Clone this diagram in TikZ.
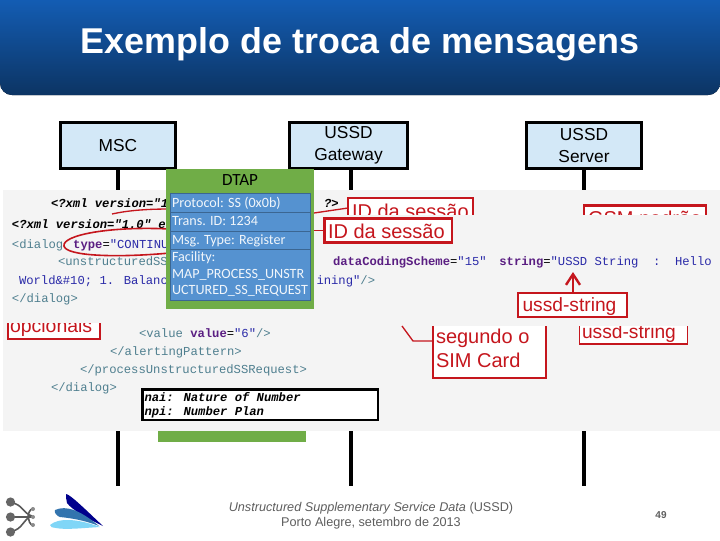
\documentclass[tikz,border=0pt]{standalone}
\usepackage{fontspec}
\setmainfont{Liberation Sans}
\newfontfamily\codefont{Liberation Mono}
\newfontfamily\calfont{Carlito}
\usetikzlibrary{arrows.meta}
\definecolor{boxblue}{HTML}{D3E8F7}
\definecolor{panel}{HTML}{F4F4F4}
\definecolor{dtapgreen}{HTML}{70AD47}
\definecolor{dtapblue}{HTML}{5592D0}
\definecolor{redmark}{HTML}{C5161D}
\definecolor{tagc}{HTML}{4F7F8F}
\definecolor{attrc}{HTML}{5A1E82}
\definecolor{valc}{HTML}{2A2AA8}
\definecolor{footc}{HTML}{5E5E5E}
\definecolor{tt}{HTML}{1565C4}
\definecolor{tm}{HTML}{14559F}
\definecolor{tb}{HTML}{0C3463}
\newcommand{\tg}[1]{\textcolor{tagc}{#1}}
\newcommand{\at}[1]{\textcolor{attrc}{\bfseries #1}}
\newcommand{\vl}[1]{\textcolor{valc}{#1}}
\tikzset{
  x=0.75pt,y=-0.75pt,
  every node/.style={inner sep=0pt,outer sep=0pt},
  actor/.style={draw=black,line width=2.4pt,fill=boxblue,align=center,font=\fontsize{13}{16.5}\selectfont},
  life/.style={draw=black,line width=2.4pt},
  code/.style={anchor=base west,font=\codefont\fontsize{9.15}{11}\selectfont},
  redbox/.style={draw=redmark,line width=1.6pt,fill=white,anchor=north west},
  redtext/.style={anchor=base west,text=redmark,font=\fontsize{15}{18}\selectfont},
  redline/.style={draw=redmark,line width=1pt},
  row/.style={anchor=base west,text=white!92!dtapblue,font=\calfont\fontsize{10.6}{12}\selectfont},
  foot/.style={text=footc,font=\fontsize{9.5}{11.25}\selectfont}
}
\begin{document}
\begin{tikzpicture}
\useasboundingbox (0,0) rectangle (720,540);
\fill[white] (0,0) rectangle (720,540);
% title band
\begin{scope}
\clip (0,0) rectangle (720,95);
\fill[top color=tt,middle color=tm,bottom color=tb,rounded corners=9pt]
  (0,-20) -- (0,95) -- (720,95) -- (720,-20) -- cycle;
\end{scope}
\node[text=white,font=\bfseries\fontsize{26.9}{30}\selectfont,anchor=base] (title) at (360,53) {Exemplo de troca de mensagens};
% actors
\node[actor,minimum width=86pt,minimum height=34.4pt] (msc) at (118,145.5) {MSC};
\node[actor,minimum width=88pt,minimum height=34.4pt] (gw) at (348.5,145.5) {USSD\\Gateway};
\node[actor,minimum width=86pt,minimum height=34.4pt] (srv) at (584,145.5) {USSD\\Server};
\coordinate (l1) at (118,486);
\coordinate (l2) at (351,486);
\coordinate (l3) at (584,486);
\draw[life] (msc.south) -- (l1);
\draw[life] (gw.south -| l2) -- (l2);
\draw[life] (srv.south) -- (l3);
% pasted panel
\fill[panel] (3,190) rectangle (720,431);
\fill[dtapgreen] (158,431) rectangle (306,442);
% red boxes cut off by the pasted slide
\begin{scope}
\clip (340,190) rectangle (720,214);
\node[redbox,minimum width=94pt,minimum height=30pt] (id1) at (348,198) {};
\node[redtext] (id1t) at (352,218) {ID da sessão};
\node[redbox,minimum width=91.5pt,minimum height=30pt] (gsm) at (584,205.5) {};
\node[redtext] (gsmt) at (588,225) {GSM padrão};
\end{scope}
\coordinate (e1) at (314,213);
\draw[redline] (e1) -- (id1.west |- 0,208);
\begin{scope}
\clip (0,323) rectangle (720,431);
\node[redbox,line width=1.4pt,minimum width=69pt,minimum height=30pt,anchor=south west] (opc) at (8,339) {};
\node[redtext,font=\fontsize{14.6}{17}\selectfont] (opct) at (10,332) {opcionais};
\end{scope}
\begin{scope}
\clip (0,326) rectangle (720,431);
\node[redbox,line width=1.4pt,minimum width=81pt,minimum height=30pt,anchor=south west] (us2) at (579.5,344) {};
\node[redtext,font=\fontsize{14.4}{17}\selectfont] (us2t) at (582,338) {ussd-string};
\end{scope}
% xml code
\node[code] (c1) at (51,207) {\bfseries\itshape <?xml version="1};
\node[code] (c1b) at (324,207) {\bfseries\itshape ?>};
\node[code] (c2) at (12,228) {\bfseries\itshape <?xml version="1.0" e};
\node[code] (c3) at (12,248) {\tg{<dialog}\hspace{2pt} \at{type}=\vl{"CONTINU}};
\node[code] (c4) at (58,265) {\tg{<unstructuredSS}};
\node[code] (c4b) at (333,265) {\at{dataCodingScheme}=\vl{"15"}\hspace{9.5pt}\at{string}=\vl{"USSD String\ \ :\ \ Hello}};
\node[code] (c5) at (19,284) {\vl{World\&\#10; 1. Balanc}};
\node[code] (c5b) at (316.5,284) {\vl{ining"}\tg{/>}};
\node[code] (c6) at (12,302) {\tg{</dialog>}};
\node[code] (c7) at (139,337) {\tg{<value} \at{value}=\vl{"6"}\tg{/>}};
\node[code] (c8) at (110,355) {\tg{</alertingPattern>}};
\node[code] (c9) at (80,373) {\tg{</processUnstructuredSSRequest>}};
\node[code] (c10) at (51,391) {\tg{</dialog>}};
% red ellipse
\draw[redline,line width=1.2pt] (170,229) .. controls (110,226) and (62,235) .. (64,246) .. controls (66,256) and (115,258) .. (170,253);
\draw[redline] (112,214) .. controls (130,210) and (150,209) .. (170,209);
% DTAP
\fill[dtapgreen] (166,169) rectangle (314,309);
\node[font=\calfont\fontsize{12.8}{15}\selectfont] (dtap) at (240,180) {DTAP};
\draw[dtapblue!70!black,fill=dtapblue,line width=0.6pt] (170.5,193.5) rectangle (310,300);
\foreach \yy in {212,231,249}{\draw[dtapblue!70!black,line width=0.5pt] (170.5,\yy) -- (310,\yy);}
\node[row] (r1) at (172,207) {Protocol: SS (0x0b)};
\node[row] (r2) at (172,225) {Trans. ID: 1234};
\node[row] (r3) at (172,244) {Msg. Type: Register};
\node[row] (r4) at (172,261) {Facility:};
\node[row] (r5) at (172,278) {MAP\_PROCESS\_UNSTR};
\node[row] (r6) at (172,294) {UCTURED\_SS\_REQUEST};
% red callouts
\node[redbox,minimum width=95.5pt,minimum height=18pt] (id2) at (324.5,218.5) {};
\node[redtext] (id2t) at (328,238) {ID da sessão};
\coordinate (e2) at (314,230.5);
\draw[redline] (e2) -- (id2.west);
\node[redbox,minimum width=82pt,minimum height=18pt] (us1) at (518,293) {};
\node[redtext,font=\fontsize{14.4}{17}\selectfont] (us1t) at (522.5,311) {ussd-string};
\coordinate (ar) at (573,272);
\draw[draw=redmark,line width=1.8pt,-{Straight Barb[length=8pt,width=10.5pt]}] (us1.north -| ar) -- (ar);
\node[fill=white,minimum width=84.5pt,minimum height=39pt,anchor=north west] (seg) at (433,326) {};
\draw[draw=redmark,line width=1.6pt] (seg.north west) -- (seg.south west) -- (seg.south east) -- (seg.north east);
\node[redtext] (sg1) at (436,343) {segundo o};
\node[redtext] (sg2) at (436,367) {SIM Card};
\coordinate (t1) at (402,326);
\coordinate (t2) at (413,341);
\draw[redline] (t1) -- (t2) -- (t2 -| seg.west);
% nai box
\node[draw=black,line width=1.6pt,fill=white,minimum width=176.5pt,minimum height=23pt,anchor=north west] (nai) at (142.5,389.5) {};
\node[code] (n1) at (144.5,401) {\bfseries\itshape nai: Nature of Number};
\node[code] (n2) at (144.5,415) {\bfseries\itshape npi: Number Plan};
% footer
\node[foot,align=center] (ft) at (371,515.5) {\textit{Unstructured Supplementary Service Data} (USSD)\\Porto Alegre, setembro de 2013};
\node[foot,font=\bfseries\fontsize{7.5}{9}\selectfont] (pg) at (661,515) {49};
% logo 1
\begin{scope}[draw=black!65,line width=1.2pt]
\draw (12,503) .. controls (22,504) and (24,514) .. (32,516);
\draw (12,517) -- (32,517);
\draw (12,531) .. controls (22,530) and (24,518) .. (32,516);
\draw (33,508) .. controls (26,512) and (27,522) .. (33,526);
\end{scope}
\foreach \r in {502,517,532}{\fill[black!60] (10.5,\r) circle (4.6);}
\foreach \r in {509,517,525}{\fill[black!45] (33,\r) circle (2);}
% logo 2
\fill[blue!55!black] (66,494) .. controls (70,494) and (88,512) .. (103,526) .. controls (90,520) and (72,510) .. (67,503) .. controls (66,500) and (66,496) .. (66,494) -- cycle;
\fill[cyan!60!blue!80!black] (55,510) .. controls (66,505) and (80,510) .. (99,526) .. controls (84,520) and (70,518) .. (60,517) .. controls (57,516) and (54,513) .. (55,510) -- cycle;
\fill[cyan!50!white] (50,525) .. controls (58,518) and (76,518) .. (100,527) .. controls (82,528) and (66,530) .. (56,528) .. controls (53,528) and (50,527) .. (50,525) -- cycle;
\end{tikzpicture}
\end{document}
